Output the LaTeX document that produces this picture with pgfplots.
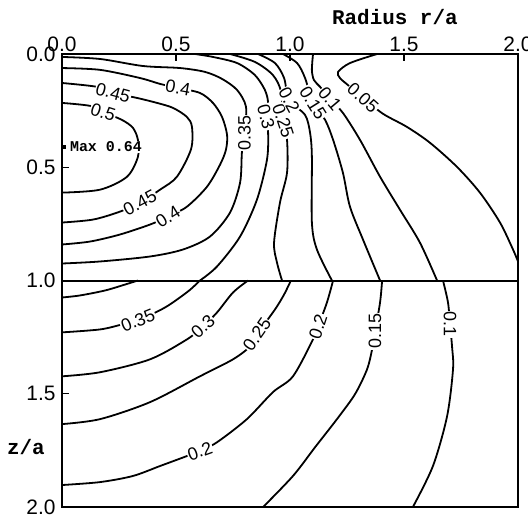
\documentclass[border=0pt]{standalone}
\usepackage{fontspec}
\setmainfont{Liberation Sans}
\newfontfamily\monofont{Liberation Mono}
\usepackage{pgfplots}
\pgfplotsset{compat=1.18}
\usetikzlibrary{calc}
\tikzset{
  cl/.style={black, line width=1.8bp, smooth, tension=0.5},
  lab/.style={fill=white, inner sep=0.8bp, font=\fontsize{18}{18}\selectfont},
}
\begin{document}
\begin{tikzpicture}
\begin{axis}[
  scale only axis, width=456bp, height=453bp,
  xmin=0, xmax=2, ymin=0, ymax=2, y dir=reverse,
  xtick={0,0.5,1,1.5,2}, xticklabels={0.0,0.5,1.0,1.5,2.0},
  ytick={0,0.5,1,1.5,2}, yticklabels={0.0,0.5,1.0,1.5,2.0},
  xtick pos=upper, xticklabel pos=upper,
  ytick pos=left,
  tick label style={font=\fontsize{21}{23}\selectfont},
  xticklabel style={yshift=-1bp},
  yticklabel style={xshift=-3bp},
  major tick length=7bp,
  tick style={black, line width=1.4bp},
  axis line style={line width=2bp},
  clip=false,
  xlabel={\monofont\bfseries Radius r/a},
  xlabel style={at={(axis cs:1.46,-0.163)}, anchor=center, font=\fontsize{21}{21}\selectfont},
  ylabel={\monofont\bfseries z/a},
  ylabel style={at={(axis cs:-0.158,1.736)}, anchor=center, rotate=-90, font=\fontsize{21}{21}\selectfont},
]
\coordinate (TL) at (axis cs:0,0);
\coordinate (BR) at (axis cs:2,2);
% interface
\addplot[black, line width=2bp] coordinates {(0,1) (2,1)};
% ---------- upper region ----------
\addplot[cl] coordinates {(0,0.216) (0.123,0.229) (0.180,0.256) (0.263,0.291) (0.311,0.326) (0.333,0.379) (0.333,0.454) (0.285,0.542) (0.167,0.599) (0,0.612)};
\addplot[cl] coordinates {(0,0.128) (0.154,0.145) (0.224,0.172) (0.329,0.194) (0.417,0.216) (0.487,0.238) (0.548,0.278) (0.570,0.322) (0.566,0.420) (0.504,0.542) (0.430,0.599) (0.342,0.656) (0.254,0.696) (0.136,0.731) (0,0.744)};
\addplot[cl] coordinates {(0,0.062) (0.167,0.070) (0.342,0.106) (0.430,0.132) (0.509,0.150) (0.605,0.172) (0.662,0.216) (0.702,0.278) (0.724,0.357) (0.719,0.423) (0.693,0.489) (0.636,0.586) (0.548,0.674) (0.465,0.718) (0.386,0.753) (0.254,0.797) (0.123,0.828) (0,0.841)};
\addplot[cl] coordinates {(0,0.013) (0.167,0.022) (0.355,0.053) (0.518,0.062) (0.627,0.079) (0.702,0.110) (0.768,0.159) (0.807,0.233) (0.800,0.348) (0.789,0.436) (0.781,0.568) (0.737,0.700) (0.649,0.806) (0.531,0.863) (0.386,0.894) (0.167,0.916) (0,0.925)};
\addplot[cl] coordinates {(0.583,0) (0.662,0.013) (0.768,0.040) (0.846,0.093) (0.890,0.159) (0.904,0.216) (0.895,0.278) (0.904,0.348) (0.899,0.467) (0.855,0.643) (0.781,0.806) (0.680,0.938) (0.605,1.0)};
\addplot[cl] coordinates {(0.737,0) (0.846,0.035) (0.925,0.093) (0.961,0.167) (0.970,0.295) (0.987,0.379) (0.987,0.524) (0.956,0.656) (0.930,0.833) (0.943,0.921) (0.965,1.0)};
\addplot[cl] coordinates {(0.860,0) (0.934,0.040) (0.974,0.106) (0.996,0.203) (1.066,0.269) (1.088,0.348) (1.096,0.454) (1.096,0.744) (1.118,0.863) (1.184,1.0)};
\addplot[cl] coordinates {(0.969,0) (1.031,0.040) (1.066,0.106) (1.101,0.216) (1.154,0.291) (1.189,0.379) (1.232,0.524) (1.263,0.674) (1.320,0.819) (1.395,1.0)};
\addplot[cl] coordinates {(1.101,0) (1.096,0.070) (1.105,0.115) (1.132,0.145) (1.175,0.198) (1.232,0.260) (1.307,0.379) (1.395,0.542) (1.482,0.687) (1.570,0.833) (1.645,1.0)};
\addplot[cl] coordinates {(1.382,0) (1.263,0.040) (1.211,0.079) (1.219,0.106) (1.254,0.137) (1.320,0.194) (1.408,0.264) (1.513,0.322) (1.614,0.392) (1.732,0.498) (1.833,0.612) (1.921,0.744) (1.978,0.863) (2.0,0.916)};
% ---------- lower region ----------
\addplot[cl] coordinates {(0,1.075) (0.079,1.066) (0.189,1.044) (0.276,1.018) (0.333,1.0)};
\addplot[cl] coordinates {(0,1.229) (0.167,1.216) (0.263,1.194) (0.333,1.176) (0.452,1.119) (0.553,1.048) (0.605,1.0)};
\addplot[cl] coordinates {(0,1.423) (0.167,1.405) (0.386,1.348) (0.548,1.260) (0.618,1.203) (0.680,1.141) (0.750,1.053) (0.816,1.0)};
\addplot[cl] coordinates {(0,1.634) (0.167,1.612) (0.386,1.537) (0.605,1.423) (0.750,1.348) (0.825,1.291) (0.855,1.238) (0.934,1.128) (0.974,1.062) (1.004,1.0)};
\addplot[cl] coordinates {(0,1.903) (0.167,1.890) (0.311,1.863) (0.430,1.819) (0.548,1.775) (0.605,1.753) (0.680,1.714) (0.811,1.612) (0.925,1.493) (1.013,1.423) (1.101,1.260) (1.123,1.203) (1.162,1.097) (1.189,1.0)};
\addplot[cl] coordinates {(0.882,2.0) (1.013,1.863) (1.110,1.736) (1.206,1.612) (1.285,1.502) (1.338,1.392) (1.360,1.304) (1.373,1.225) (1.395,1.097) (1.404,1.0)};
\addplot[cl] coordinates {(1.539,2.0) (1.627,1.819) (1.689,1.599) (1.715,1.392) (1.711,1.295) (1.702,1.194) (1.693,1.097) (1.671,1.0)};
% maximum
\addplot[only marks, mark=square*, mark size=1.3bp, black] coordinates {(0.01,0.41)};
% contour labels
\node[lab, rotate=-18] at (axis cs:0.180,0.256) {0.5};
\node[lab, rotate=-15] at (axis cs:0.224,0.172) {0.45};
\node[lab, rotate=-10] at (axis cs:0.509,0.150) {0.4};
\node[lab, rotate=28] at (axis cs:0.342,0.656) {0.45};
\node[lab, rotate=32] at (axis cs:0.465,0.718) {0.4};
\node[lab, rotate=90] at (axis cs:0.800,0.348) {0.35};
\node[lab, rotate=-75] at (axis cs:0.895,0.278) {0.3};
\node[lab, rotate=-72] at (axis cs:0.970,0.295) {0.25};
\node[lab, rotate=-62] at (axis cs:0.996,0.203) {0.2};
\node[lab, rotate=-58] at (axis cs:1.101,0.216) {0.15};
\node[lab, rotate=-50] at (axis cs:1.175,0.198) {0.1};
\node[lab, rotate=-42] at (axis cs:1.320,0.194) {0.05};
\node[lab, rotate=22] at (axis cs:0.333,1.176) {0.35};
\node[lab, rotate=42] at (axis cs:0.618,1.203) {0.3};
\node[lab, rotate=55] at (axis cs:0.855,1.238) {0.25};
\node[lab, rotate=72] at (axis cs:1.123,1.203) {0.2};
\node[lab, rotate=90] at (axis cs:1.373,1.225) {0.15};
\node[lab, rotate=-90] at (axis cs:1.702,1.194) {0.1};
\node[lab, rotate=20] at (axis cs:0.605,1.753) {0.2};
\node[anchor=west, fill=white, inner sep=1bp, font=\monofont\bfseries\fontsize{15}{15}\selectfont] at (axis cs:0.03,0.41) {Max 0.64};
\end{axis}
\pgfresetboundingbox
\path ($(TL)+(-62bp,54bp)$) rectangle ($(BR)+(10bp,-13bp)$);
\end{tikzpicture}
\end{document}
